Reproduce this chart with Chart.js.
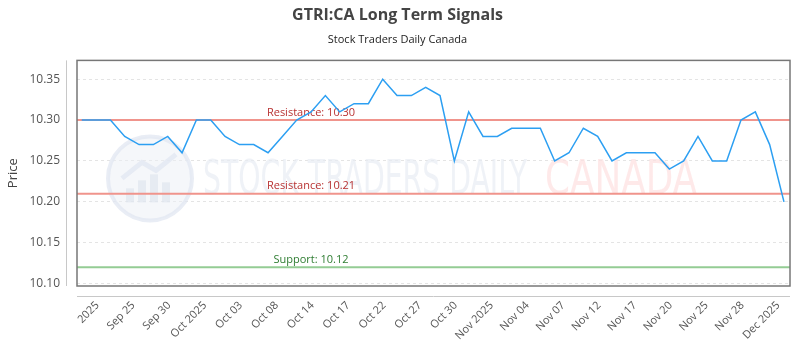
<!DOCTYPE html>
<html>
<head>
<meta charset="utf-8">
<script src="https://cdn.jsdelivr.net/npm/chart.js@4.4.1/dist/chart.umd.min.js"></script>
<style>
  body { margin: 0; background: #fff; }
  #wrap { width: 800px; height: 350px; }
</style>
</head>
<body>
<div id="wrap"><canvas id="signalChart"></canvas></div>
<script>
// daily closes, one per trading day
const prices = [
  10.30, 10.30, 10.30, 10.28, 10.27, 10.27, 10.28, 10.26, 10.30, 10.30,
  10.28, 10.27, 10.27, 10.26, 10.28, 10.30, 10.31, 10.33, 10.31, 10.32,
  10.32, 10.35, 10.33, 10.33, 10.34, 10.33, 10.25, 10.31, 10.28, 10.28,
  10.29, 10.29, 10.29, 10.25, 10.26, 10.29, 10.28, 10.25, 10.26, 10.26,
  10.26, 10.24, 10.25, 10.28, 10.25, 10.25, 10.30, 10.31, 10.27, 10.20
];
const tickLabels = [
  "2025", "Sep 25", "Sep 30", "Oct 2025", "Oct 03", "Oct 08", "Oct 14", "Oct 17",
  "Oct 22", "Oct 27", "Oct 30", "Nov 2025", "Nov 04", "Nov 07", "Nov 12", "Nov 17",
  "Nov 20", "Nov 25", "Nov 28", "Dec 2025"
];
const yTicks = [10.10, 10.15, 10.20, 10.25, 10.30, 10.35];
const resistance = [10.30, 10.21];
const support = [10.12];

const FONT = "'Open Sans', 'DejaVu Sans', sans-serif";
const tickStep = 2.5;   // ticks every 2.5 sessions
const tickEnd = 0.4;    // last tick sits a bit before the last session
const labelAt = 16;     // session where the level labels sit

const levels = [
  ...resistance.map(v => ({ value: v, text: "Resistance: " + v.toFixed(2), line: "#f0948c", color: "#b83232" })),
  ...support.map(v => ({ value: v, text: "Support: " + v.toFixed(2), line: "#94cc94", color: "#2f7d32" }))
];

const watermark = {
  id: "watermark",
  beforeDatasetsDraw(chart) {
    const { ctx, chartArea: a } = chart;
    ctx.save();
    // logo disc
    const cx = a.left + 73, cy = a.top + 118, r = 42;
    ctx.beginPath();
    ctx.arc(cx, cy, r, 0, Math.PI * 2);
    ctx.fillStyle = "rgba(236,239,246,0.5)";
    ctx.fill();
    ctx.lineWidth = 4;
    ctx.strokeStyle = "rgba(226,231,241,0.75)";
    ctx.stroke();
    ctx.fillStyle = "rgba(220,226,237,0.6)";
    [[-24, 14], [-12, 22], [0, 28], [12, 20]].forEach(([dx, h]) => {
      ctx.fillRect(cx + dx, cy + 24 - h, 8, h);
    });
    ctx.beginPath();
    ctx.moveTo(cx - 28, cy);
    ctx.lineTo(cx - 8, cy - 16);
    ctx.lineTo(cx + 6, cy - 8);
    ctx.lineTo(cx + 26, cy - 24);
    ctx.lineWidth = 5;
    ctx.stroke();

    const drawFit = (text, x0, width, color) => {
      ctx.font = "48px 'DejaVu Sans Condensed', 'DejaVu Sans', sans-serif";
      const w = ctx.measureText(text).width;
      ctx.save();
      ctx.translate(x0, a.top + 134);
      ctx.scale(width / w, 1);
      ctx.fillStyle = color;
      ctx.textBaseline = "alphabetic";
      ctx.fillText(text, 0, 0);
      ctx.restore();
    };
    drawFit("STOCK TRADERS DAILY", a.left + 126, 324, "rgba(232,236,243,0.7)");
    drawFit("CANADA", a.left + 468, 152, "rgba(253,226,226,0.75)");

    // signal levels
    const ys = chart.scales.y, xs = chart.scales.x;
    levels.forEach(l => {
      const y = ys.getPixelForValue(l.value);
      ctx.beginPath();
      ctx.moveTo(a.left, y);
      ctx.lineTo(a.right, y);
      ctx.lineWidth = 2;
      ctx.strokeStyle = l.line;
      ctx.stroke();
      ctx.font = "11px " + FONT;
      ctx.fillStyle = l.color;
      ctx.textAlign = "center";
      ctx.textBaseline = "bottom";
      ctx.fillText(l.text, xs.getPixelForValue(labelAt), y - 2);
    });
    ctx.restore();
  }
};

const frame = {
  id: "frame",
  afterDraw(chart) {
    const { ctx, chartArea: a } = chart;
    ctx.save();
    ctx.lineWidth = 1.5;
    ctx.strokeStyle = "#777";
    ctx.strokeRect(a.left, a.top, a.right - a.left, a.bottom - a.top);
    ctx.lineWidth = 1;
    ctx.strokeStyle = "#c8c8c8";
    ctx.beginPath();
    ctx.moveTo(a.left - 10.5, a.top);
    ctx.lineTo(a.left - 10.5, a.bottom);
    ctx.moveTo(a.left, a.bottom + 10.5);
    ctx.lineTo(a.right, a.bottom + 10.5);
    ctx.stroke();
    ctx.restore();
  }
};

new Chart(document.getElementById("signalChart"), {
  type: "line",
  data: {
    datasets: [{
      data: prices.map((p, i) => ({ x: i, y: p })),
      borderColor: "#2c9ff2",
      borderWidth: 1.5,
      pointRadius: 0,
      tension: 0
    }]
  },
  options: {
    responsive: true,
    maintainAspectRatio: false,
    animation: false,
    layout: { padding: { left: 5, right: 10, top: 0, bottom: 0 } },
    plugins: {
      legend: { display: false },
      tooltip: { enabled: false },
      title: {
        display: true,
        text: "GTRI:CA Long Term Signals",
        color: "#444",
        font: { family: FONT, size: 16, weight: "bold" },
        padding: { top: 6, bottom: 8 }
      },
      subtitle: {
        display: true,
        text: "Stock Traders Daily Canada",
        color: "#222",
        font: { family: FONT, size: 11 },
        padding: { bottom: 14 }
      }
    },
    scales: {
      x: {
        type: "linear",
        min: -0.33,
        max: prices.length - 0.58,
        afterBuildTicks: s => {
          const last = prices.length - 1 - tickEnd;
          s.ticks = tickLabels.map((_, k) => ({ value: last - tickStep * (tickLabels.length - 1 - k) }));
        },
        afterFit: s => {
          s.height = 64;
          s.paddingLeft = 0;
          s.paddingRight = 0;
        },
        grid: { display: false },
        border: { display: false },
        ticks: {
          autoSkip: false,
          minRotation: 45,
          maxRotation: 45,
          padding: 5,
          color: "#555",
          font: { family: FONT, size: 11 },
          callback: (v, i) => tickLabels[i]
        }
      },
      y: {
        min: 10.097,
        max: 10.373,
        afterBuildTicks: s => { s.ticks = yTicks.map(v => ({ value: v })); },
        afterFit: s => { s.width = 72; },
        grid: { color: "#e4e4e4", drawTicks: false },
        border: { display: false, dash: [3, 3] },
        ticks: {
          padding: 17,
          color: "#555",
          font: { family: FONT, size: 12 },
          callback: v => v.toFixed(2)
        },
        title: {
          display: true,
          text: "Price",
          color: "#444",
          font: { family: FONT, size: 13 },
          padding: { top: 0, bottom: 4 }
        }
      }
    }
  },
  plugins: [watermark, frame]
});
</script>
</body>
</html>
